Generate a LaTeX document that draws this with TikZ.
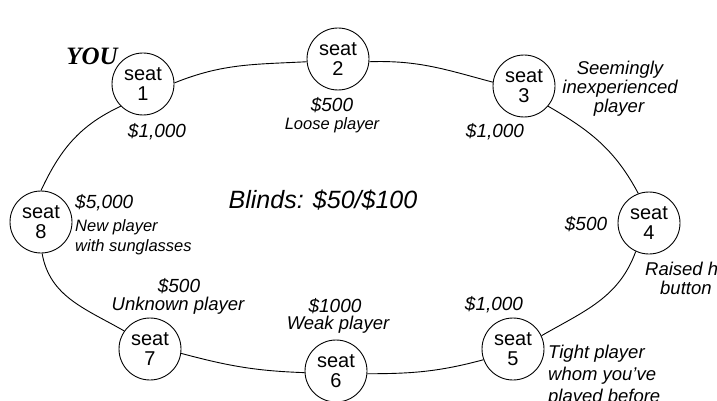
\documentclass[tikz,border=0pt]{standalone}
\usepackage{fontspec}
\setmainfont{Liberation Sans}
\newfontfamily\youfont{Liberation Serif}
\tikzset{
  seatnode/.style={circle, draw, line width=0.9pt, minimum size=62pt, inner sep=0pt, align=center, font=\fontsize{20}{20}\selectfont},
  amt/.style={anchor=base, inner sep=0pt, font=\itshape\fontsize{19}{22}\selectfont},
  desc/.style={anchor=base, inner sep=0pt, font=\itshape\fontsize{18.5}{22}\selectfont},
  descw/.style={anchor=base west, inner sep=0pt, font=\itshape\fontsize{18.5}{22}\selectfont},
  descs/.style={anchor=base, inner sep=0pt, font=\itshape\fontsize{16.5}{20}\selectfont},
  descsw/.style={anchor=base west, inner sep=0pt, font=\itshape\fontsize{16.5}{20}\selectfont},
  conn/.style={line width=0.9pt},
}
\begin{document}
\begin{tikzpicture}[x=1pt,y=1pt]
\useasboundingbox (0,0) rectangle (717,-401);
\clip (0,0) rectangle (717,-401);
% seats
\node[seatnode] (s1) at (143,-84) {seat\\1};
\node[seatnode] (s2) at (338,-59) {seat\\2};
\node[seatnode] (s3) at (524,-86) {seat\\3};
\node[seatnode] (s4) at (649,-223) {seat\\4};
\node[seatnode] (s5) at (513,-349) {seat\\5};
\node[seatnode] (s6) at (336,-371) {seat\\6};
\node[seatnode] (s7) at (150,-349) {seat\\7};
\node[seatnode] (s8) at (41,-222) {seat\\8};
% connectors
\draw[conn] (s1.2) to[out=22,in=183] (s2.185);
\draw[conn] (s2.-5) to[out=2,in=165] (s3.173);
\draw[conn] (s3.-40) to[out=-30,in=118] (s4.110);
\draw[conn] (s4.-115) to[out=-110,in=30] (s5.25);
\draw[conn] (s5.200) to[out=195,in=0] (s6.-5);
\draw[conn] (s6.183) to[out=178,in=-15] (s7.-8);
\draw[conn] (s7.145) to[out=150,in=-80] (s8.-88);
\draw[conn] (s8.90) to[out=65,in=205] (s1.225);
% texts
\node[anchor=base, inner sep=0pt, font=\youfont\bfseries\itshape\fontsize{25}{28}\selectfont] (you) at (92,-65) {YOU};
\node[anchor=base, inner sep=0pt, font=\itshape\fontsize{25}{28}\selectfont] (blinds) at (323,-208) {Blinds: \$50/\$100};
\node[amt] (a1) at (157,-138) {\$1,000};
\node[amt] (a2) at (332,-112) {\$500};
\node[descs] (d2) at (332,-129) {Loose player};
\node[amt] (a3) at (495,-137) {\$1,000};
\node[desc] (d3a) at (620,-75) {Seemingly};
\node[desc] (d3b) at (620,-94) {inexperienced};
\node[desc] (d3c) at (619,-113) {player};
\node[amt] (a4) at (586,-230) {\$500};
\node[descw] (d4a) at (645,-275) {Raised h};
\node[descw] (d4b) at (660,-294) {button};
\node[amt] (a5) at (494,-310) {\$1,000};
\node[descw] (d5a) at (548,-358) {Tight player};
\node[descw] (d5b) at (548,-380) {whom you've};
\node[descw] (d5c) at (548,-402) {played before};
\node[amt] (a6) at (335,-312) {\$1000};
\node[desc] (d6) at (338,-329) {Weak player};
\node[amt] (a7) at (179,-292) {\$500};
\node[desc] (d7) at (178,-310) {Unknown player};
\node[amt, anchor=base west] (a8) at (75,-208) {\$5,000};
\node[descsw] (d8a) at (75,-231) {New player};
\node[descsw] (d8b) at (75,-251) {with sunglasses};
\end{tikzpicture}
\end{document}
